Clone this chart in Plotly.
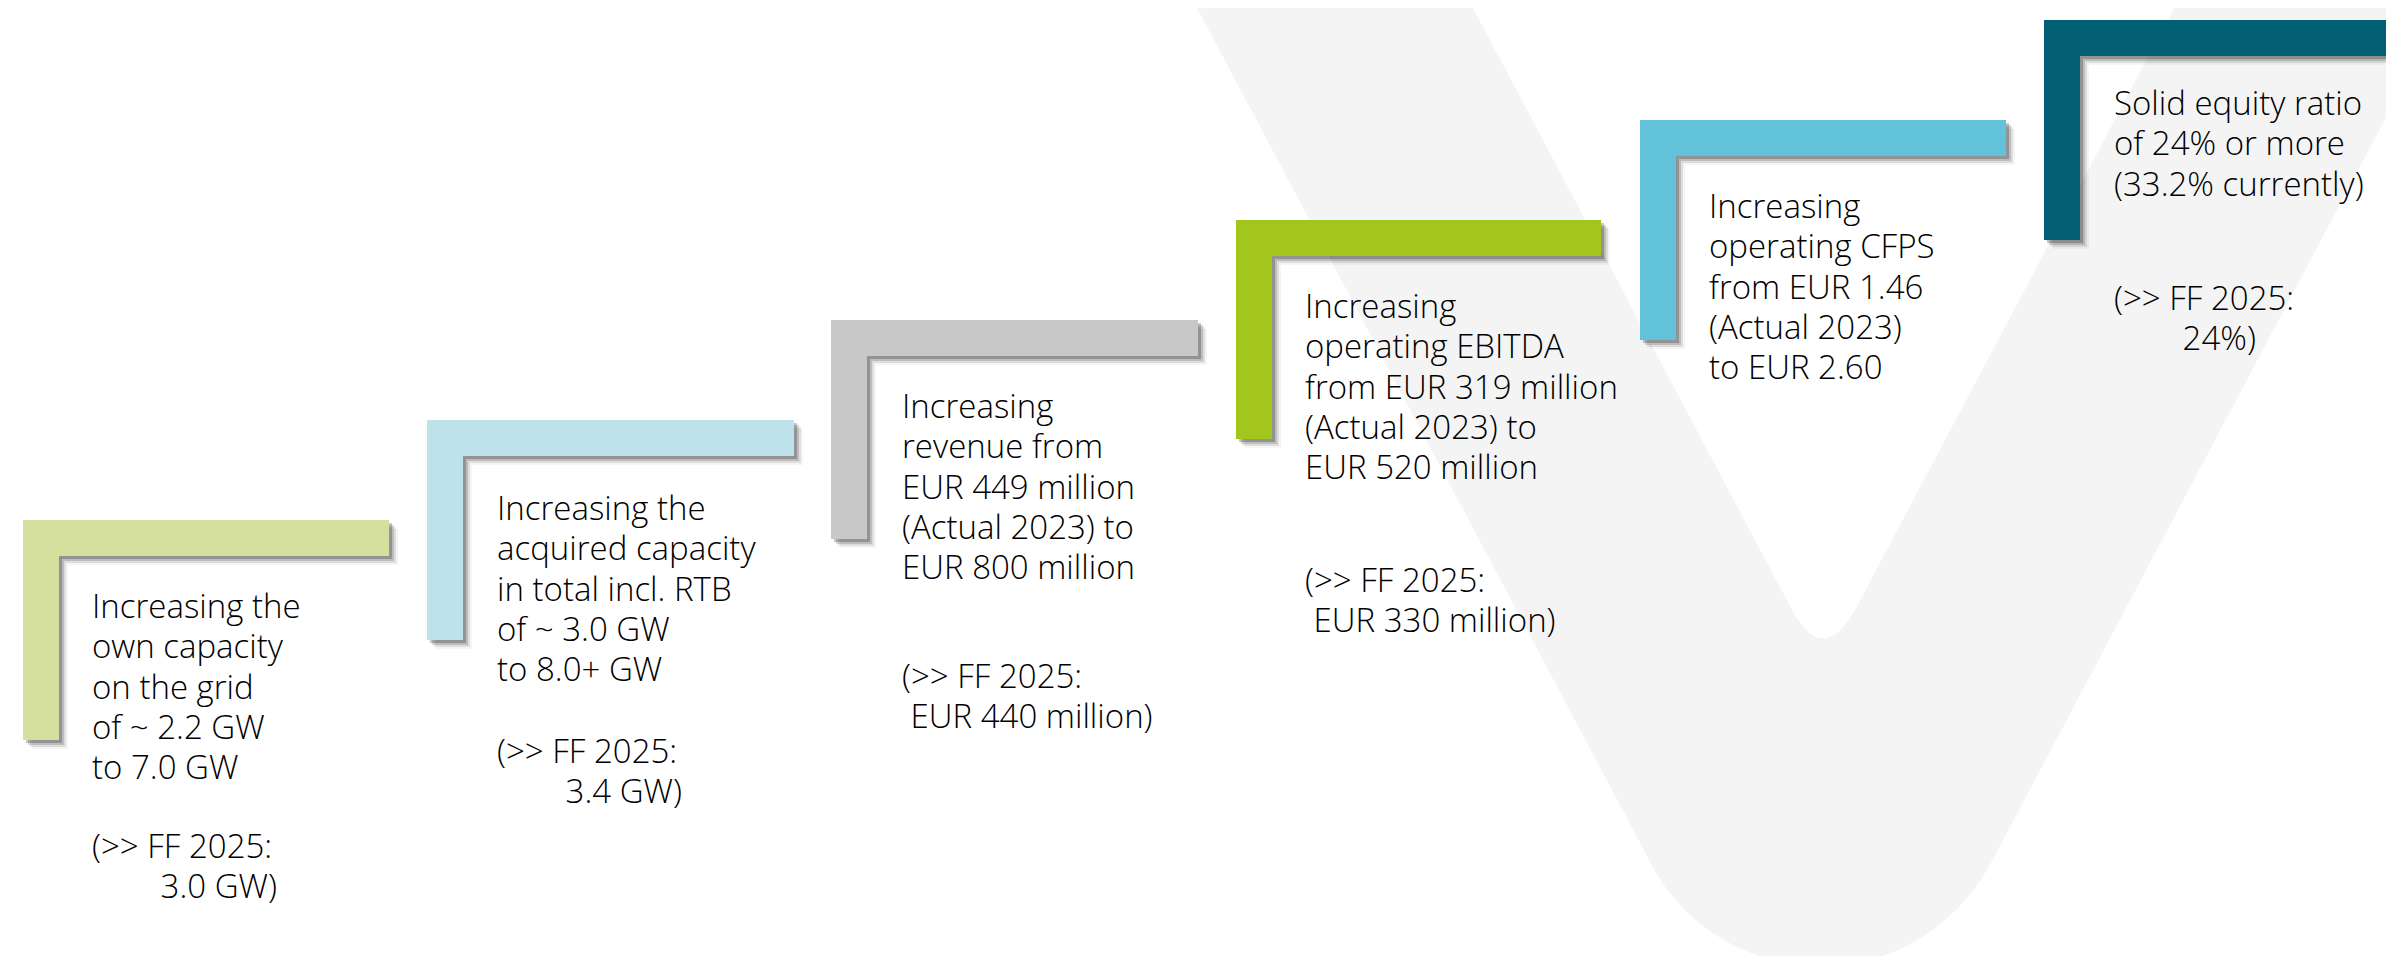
import numpy as np
import plotly.graph_objects as go

W, H = 2394, 956

# ---------------- data (text content) ----------------
goal_lines = [
    ["Increasing the", "own capacity", "on the grid", "of ~ 2.2 GW", "to 7.0 GW"],
    ["Increasing the", "acquired capacity", "in total incl. RTB", "of ~ 3.0 GW", "to 8.0+ GW"],
    ["Increasing", "revenue from", "EUR 449 million", "(Actual 2023) to", "EUR 800 million"],
    ["Increasing", "operating EBITDA", "from EUR 319 million", "(Actual 2023) to", "EUR 520 million"],
    ["Increasing", "operating CFPS", "from EUR 1.46", "(Actual 2023)", "to EUR 2.60"],
    ["Solid equity ratio", "of 24% or more", "(33.2% currently)"],
]
ff_head = ["(>> FF 2025:", "(>> FF 2025:", "(>> FF 2025:", "(>> FF 2025:", None, "(>> FF 2025:"]
ff_value = ["3.0 GW)", "3.4 GW)", "EUR 440 million)", "EUR 330 million)", None, "24%)"]
step_colors = ["#D5E09E", "#BEE2EA", "#C8C8C8", "#A3C61C", "#62C2D9", "#025F73"]

# ---------------- layout geometry (pixels) ----------------
# bracket: left, top, right, bottom ; text x ; first baseline ; ff baseline ; ff value x
brackets = [
    (15, 512, 381, 732, 90, 618, 858, 163),
    (419, 412, 786, 632, 495, 520, 763, 567),
    (823, 312, 1190, 531, 900, 418, 688, 912),
    (1228, 212, 1593, 431, 1303, 318, 592, 1315),
    (1632, 112, 1998, 332, 1707, 218, None, None),
    (2036, 12, 2440, 232, 2112, 115, 310, 2183),
]
T = 36          # bar thickness
BASE_FS = 31    # sets line spacing (1.3 * 31 ~ 40 px)
GLYPH_FS = 33   # visible glyph size
FONT = "Open Sans, Noto Sans, sans-serif"
TXT = "#000000"
DX = -8         # annotation padding compensation
DY = -45        # first baseline -> top of text box
NBSP_W = 8.6    # width of a no-break space at GLYPH_FS

fig = go.Figure()

# ---- background "V" (decorative) ----
def bez(p0, p1, p2, p3, n=30):
    t = np.linspace(0, 1, n)[:, None]
    return ((1 - t) ** 3) * p0 + 3 * ((1 - t) ** 2) * t * p1 + 3 * (1 - t) * t ** 2 * p2 + t ** 3 * p3

def qbez(p0, p1, p2, n=20):
    t = np.linspace(0, 1, n)[:, None]
    return ((1 - t) ** 2) * p0 + 2 * (1 - t) * t * p1 + t ** 2 * p2

P = np.array
outer_bottom = bez(P([1641, 853]), P([1715, 993]), P([1910, 993]), P([1984, 853]))
inner_tip = qbez(P([1848, 600]), P([1815, 661]), P([1783, 600]))
vx = [1189] + list(outer_bottom[:, 0]) + [2436, 2166] + list(inner_tip[:, 0]) + [1465, 1189]
vy = [0] + list(outer_bottom[:, 1]) + [0, 0] + list(inner_tip[:, 1]) + [0, 0]
fig.add_trace(go.Scatter(
    x=vx, y=vy, mode="lines", line=dict(width=0, color="rgba(0,0,0,0)"),
    fill="toself", fillcolor="#F4F4F4",
    hoverinfo="skip", showlegend=False,
))

def lpath(x0, y0, x1, y1, dx=0, dy=0):
    x0, x1 = x0 + dx, x1 + dx
    y0, y1 = y0 + dy, y1 + dy
    return (f"M {x0} {y0} L {x1} {y0} L {x1} {y0+T} L {x0+T} {y0+T} "
            f"L {x0+T} {y1} L {x0} {y1} Z")

shapes = []
annots = []
def block(x, y_base, lines):
    text = "<br>".join(f"<span style='font-size:{GLYPH_FS}px'>{s}</span>" for s in lines)
    annots.append(dict(x=x + DX, y=y_base + DY, text=text, xref="x", yref="y",
                       xanchor="left", yanchor="top", align="left", showarrow=False,
                       font=dict(family=FONT, size=BASE_FS, color=TXT, weight=300)))

for i, (bl, bt, br, bb, tx, base1, ffb, ffx) in enumerate(brackets):
    # soft drop shadow
    for off, col in [(9, "rgba(0,0,0,0.04)"), (7, "rgba(0,0,0,0.09)"), (5, "rgba(0,0,0,0.15)"), (3, "rgba(0,0,0,0.22)")]:
        shapes.append(dict(type="path", path=lpath(bl, bt, br, bb, off, off), xref="x", yref="y",
                           fillcolor=col, line=dict(width=0), layer="above"))
    shapes.append(dict(type="path", path=lpath(bl, bt, br, bb), xref="x", yref="y",
                       fillcolor=step_colors[i], line=dict(width=0), layer="above"))
    block(tx, base1, goal_lines[i])
    if ff_head[i]:
        n = int(round((ffx - tx) / NBSP_W))
        block(tx, ffb, [ff_head[i], "\u00a0" * n + ff_value[i]])

fig.update_layout(
    width=W, height=H,
    margin=dict(l=0, r=0, t=0, b=0),
    paper_bgcolor="white", plot_bgcolor="white",
    xaxis=dict(range=[0, W], visible=False, fixedrange=True),
    yaxis=dict(range=[H, 0], visible=False, fixedrange=True),
    shapes=shapes, annotations=annots, showlegend=False,
)

fig.write_html("out.html")
